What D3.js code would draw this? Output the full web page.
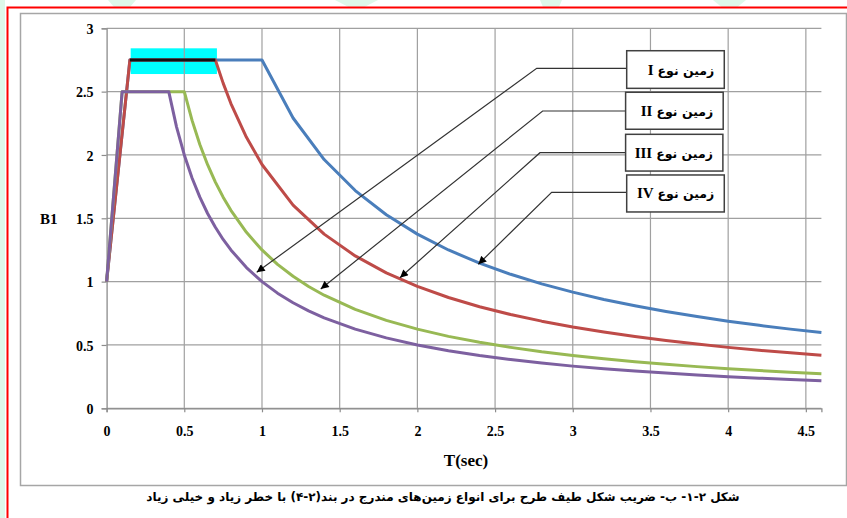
<!DOCTYPE html>
<html>
<head>
<meta charset="utf-8">
<script src="https://cdn.jsdelivr.net/npm/d3@7.9.0/dist/d3.min.js"></script>
<style>
  body { margin: 0; background: #fff; }
  svg { display: block; }
</style>
</head>
<body>
<svg id="chart" width="847" height="518"></svg>
<script>
// B1 values, [T, B1]
const typeI = [[0,1],[0.1,2.5],[0.4,2.5],[0.45,2.222],[0.5,2.0],[0.55,1.818],[0.6,1.667],[0.65,1.538],[0.7,1.429],[0.75,1.333],[0.8,1.25],[0.9,1.111],[1.0,1.0],[1.1,0.909],[1.2,0.833],[1.3,0.769],[1.4,0.714],[1.6,0.625],[1.8,0.556],[2.0,0.5],[2.2,0.455],[2.4,0.417],[2.6,0.385],[2.8,0.357],[3.0,0.333],[3.2,0.313],[3.4,0.294],[3.6,0.278],[3.8,0.263],[4.0,0.25],[4.2,0.238],[4.4,0.227],[4.6,0.217]];
const typeII = [[0,1],[0.1,2.5],[0.5,2.5],[0.55,2.273],[0.6,2.083],[0.65,1.923],[0.7,1.786],[0.75,1.667],[0.8,1.563],[0.9,1.389],[1.0,1.25],[1.1,1.136],[1.2,1.042],[1.3,0.962],[1.4,0.893],[1.6,0.781],[1.8,0.694],[2.0,0.625],[2.2,0.568],[2.4,0.521],[2.6,0.481],[2.8,0.446],[3.0,0.417],[3.2,0.391],[3.4,0.368],[3.6,0.347],[3.8,0.329],[4.0,0.313],[4.2,0.298],[4.4,0.284],[4.6,0.272]];
const typeIII = [[0,1],[0.15,2.75],[0.7,2.75],[0.75,2.567],[0.8,2.406],[0.9,2.139],[1.0,1.925],[1.2,1.604],[1.4,1.375],[1.6,1.203],[1.8,1.069],[2.0,0.963],[2.2,0.875],[2.4,0.802],[2.6,0.740],[2.8,0.688],[3.0,0.642],[3.2,0.602],[3.4,0.566],[3.6,0.535],[3.8,0.507],[4.0,0.481],[4.2,0.458],[4.4,0.438],[4.6,0.418]];
const typeIV = [[0,1],[0.15,2.75],[1.0,2.75],[1.2,2.292],[1.4,1.964],[1.6,1.719],[1.8,1.528],[2.0,1.375],[2.2,1.25],[2.4,1.146],[2.6,1.058],[2.8,0.982],[3.0,0.917],[3.2,0.859],[3.4,0.809],[3.6,0.764],[3.8,0.724],[4.0,0.688],[4.2,0.655],[4.4,0.625],[4.6,0.598]];

const soilWord = "زمین نوع";
const soilNumerals = ["I", "II", "III", "IV"];
const xTicks = [0, 0.5, 1, 1.5, 2, 2.5, 3, 3.5, 4, 4.5];
const yTicks = [0, 0.5, 1, 1.5, 2, 2.5, 3];
const highlight = { t0: 0.15, t1: 0.7, b: 2.75 };

const caption = "شکل ۲-۱- ب- ضریب شکل طیف طرح برای انواع زمین‌های مندرج در بند(۲-۴) با خطر زیاد و خیلی زیاد";

// series drawn back to front
const series = [
  { data: typeIV, color: "#4a7ebb" },
  { data: typeIII, color: "#be4b48" },
  { data: typeII, color: "#98b954" },
  { data: typeI, color: "#7d60a0" }
];

// callout boxes / arrows, in chart units
const callouts = [
  { box: [3.347, 3.975, 2.823, 2.526], bend: [2.768, 2.684], tip: [0.966, 1.074] },
  { box: [3.340, 3.968, 2.495, 2.203], bend: [2.806, 2.347], tip: [1.378, 0.942] },
  { box: [3.340, 3.966, 2.163, 1.873], bend: [2.789, 2.018], tip: [1.888, 1.031] },
  { box: [3.347, 3.975, 1.842, 1.550], bend: [2.864, 1.705], tip: [2.392, 1.137] }
];

const svg = d3.select("#chart");
const serif = "'Liberation Serif', 'Times New Roman', serif";

// watermark tint and frames
svg.append("rect").attr("x", 0).attr("y", 0).attr("width", 5).attr("height", 518).attr("fill", "#def8ea");
[[108, 136], [335, 378], [540, 562], [713, 746]].forEach(([a, b]) => {
  svg.append("path")
    .attr("d", `M${a},0 L${b},0 L${(a + b) / 2 + 8},7 L${(a + b) / 2 - 8},7 Z`)
    .attr("fill", "#def8ea");
});
svg.append("rect")
  .attr("x", 7.5).attr("y", 7.5).attr("width", 845).attr("height", 520)
  .attr("fill", "none").attr("stroke", "#ff0000").attr("stroke-width", 2);
svg.append("rect")
  .attr("x", 20.5).attr("y", 13.5).attr("width", 826).attr("height", 472)
  .attr("fill", "#fff").attr("stroke", "#a6a6a6").attr("stroke-width", 1.5);

const x = d3.scaleLinear().domain([0, 4.6]).range([106.6, 821.4]);
const y = d3.scaleLinear().domain([0, 3]).range([408.3, 28.3]);

// cyan highlight under the grid
svg.append("rect")
  .attr("x", x(0.155)).attr("y", y(2.842))
  .attr("width", x(0.71) - x(0.155))
  .attr("height", y(2.639) - y(2.842))
  .attr("fill", "#00ffff");

// grid
svg.append("g").selectAll("line")
  .data(yTicks)
  .join("line")
  .attr("x1", x(0)).attr("x2", x(4.6))
  .attr("y1", d => y(d)).attr("y2", d => y(d))
  .attr("stroke", "#a0a0a0").attr("stroke-width", 1.2);
svg.append("g").selectAll("line")
  .data(xTicks.filter(d => d > 0))
  .join("line")
  .attr("x1", d => x(d)).attr("x2", d => x(d))
  .attr("y1", y(3)).attr("y2", y(0))
  .attr("stroke", "#a0a0a0").attr("stroke-width", 1.2);

// axes
const xAxis = svg.append("g")
  .attr("transform", `translate(0,${y(0)})`)
  .call(d3.axisBottom(x).tickValues(xTicks).tickSize(4).tickFormat(d3.format("")));
const yAxis = svg.append("g")
  .attr("transform", `translate(${x(0)},0)`)
  .call(d3.axisLeft(y).tickValues(yTicks).tickSize(5).tickFormat(d3.format("")));

[xAxis, yAxis].forEach(a => {
  a.select(".domain").attr("stroke", "#8c8c8c").attr("stroke-width", 1.3);
  a.selectAll(".tick line").attr("stroke", "#8c8c8c").attr("stroke-width", 1.2);
  a.selectAll("text")
    .attr("font-family", serif).attr("font-weight", "bold")
    .attr("font-size", 14).attr("fill", "#000");
});
xAxis.selectAll("text").attr("y", 18);
yAxis.selectAll("text").attr("x", -13).attr("dy", "0.36em");

svg.append("text")
  .attr("x", 40).attr("y", 224)
  .attr("font-family", serif).attr("font-weight", "bold").attr("font-size", 15)
  .text("B1");
svg.append("text")
  .attr("x", 466).attr("y", 466).attr("text-anchor", "middle")
  .attr("font-family", serif).attr("font-weight", "bold").attr("font-size", 17)
  .text("T(sec)");

// curves
const line = d3.line().x(d => x(d[0])).y(d => y(d[1]));
svg.append("g").selectAll("path")
  .data(series)
  .join("path")
  .attr("d", d => line(d.data))
  .attr("fill", "none")
  .attr("stroke", d => d.color)
  .attr("stroke-width", 3)
  .attr("stroke-linejoin", "round");

svg.append("line")
  .attr("x1", x(highlight.t0)).attr("x2", x(highlight.t1))
  .attr("y1", y(highlight.b)).attr("y2", y(highlight.b))
  .attr("stroke", "#111").attr("stroke-width", 3);

// callouts
svg.append("defs").append("marker")
  .attr("id", "arrow")
  .attr("viewBox", "0 0 10 10")
  .attr("refX", 10).attr("refY", 5)
  .attr("markerWidth", 10).attr("markerHeight", 8)
  .attr("markerUnits", "userSpaceOnUse")
  .attr("orient", "auto")
  .append("path").attr("d", "M0,0 L10,5 L0,10 Z").attr("fill", "#000");

const cg = svg.append("g");
callouts.forEach((c, i) => {
  const [t0, t1, bTop, bBot] = c.box;
  const cy = (y(bTop) + y(bBot)) / 2 + 5;
  cg.append("path")
    .attr("d", `M${x(t0)},${y(c.bend[1])} L${x(c.bend[0])},${y(c.bend[1])} L${x(c.tip[0])},${y(c.tip[1])}`)
    .attr("fill", "none").attr("stroke", "#333").attr("stroke-width", 1.2)
    .attr("marker-end", "url(#arrow)");
  cg.append("rect")
    .attr("x", x(t0)).attr("y", y(bTop))
    .attr("width", x(t1) - x(t0)).attr("height", y(bBot) - y(bTop))
    .attr("fill", "#fff").attr("stroke", "#404040").attr("stroke-width", 1.5);
  const word = cg.append("text")
    .attr("x", x(t1) - 10).attr("y", cy)
    .attr("text-anchor", "end")
    .attr("font-family", "'DejaVu Sans', sans-serif")
    .attr("font-weight", "bold").attr("font-size", 12.5)
    .text(soilWord);
  const w = word.node().getComputedTextLength();
  cg.append("text")
    .attr("x", x(t1) - 10 - w - 4).attr("y", cy)
    .attr("text-anchor", "end")
    .attr("font-family", serif)
    .attr("font-weight", "bold").attr("font-size", 15)
    .text(soilNumerals[i]);
});

svg.append("text")
  .attr("x", 443).attr("y", 501)
  .attr("direction", "rtl").attr("text-anchor", "middle")
  .attr("font-family", "'DejaVu Sans', sans-serif")
  .attr("font-weight", "bold").attr("font-size", 12)
  .text(caption);
</script>
</body>
</html>
